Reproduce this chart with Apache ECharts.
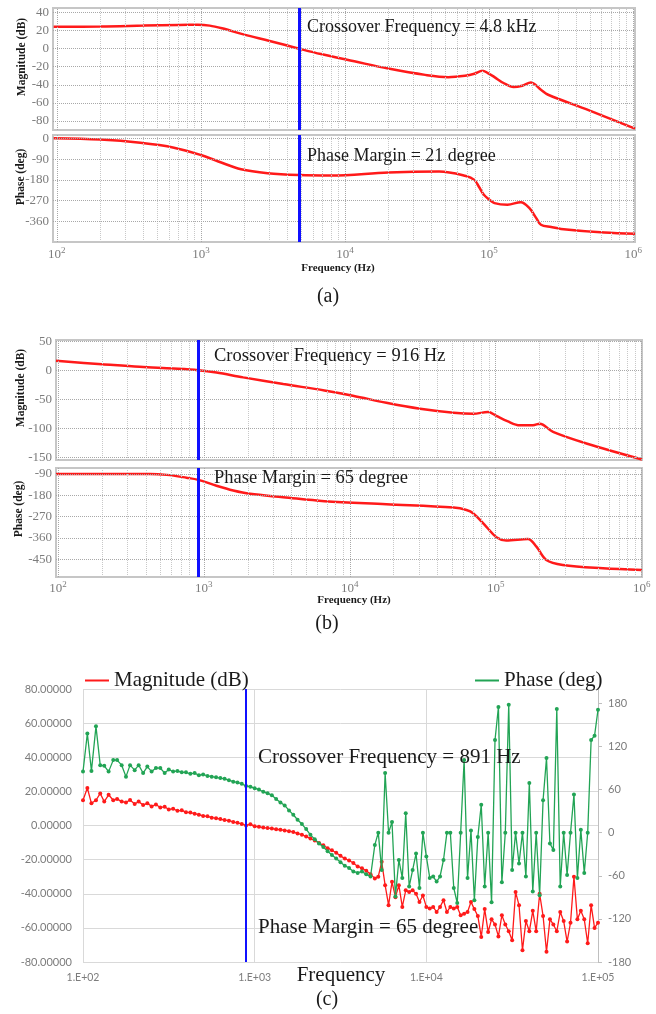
<!DOCTYPE html>
<html>
<head>
<meta charset="utf-8">
<script src="https://cdn.jsdelivr.net/npm/echarts@6/dist/echarts.min.js"></script>
<style>
  html, body { margin: 0; padding: 0; background: #fff; }
  #chart { width: 656px; height: 1014px; }
</style>
</head>
<body>
<div id="chart"></div>
<script>
// ---------- (a) loop gain, first design ----------
const aMagFreq = [95, 200, 400, 700, 950, 1150, 1400, 2000, 3000, 4800, 6800, 11600, 20000, 36000, 52000, 68000, 79000, 90000, 98000, 109000, 126000, 148000, 170000, 195000, 229000, 257000, 490000, 1030000];
const aMagDb   = [24.3, 24.5, 25.5, 26.3, 26.4, 25.5, 22.5, 15.5, 8.5, 0, -6, -14, -22, -29, -31.5, -30, -27.8, -24.4, -27, -31.5, -38, -42.5, -41, -37.5, -45.5, -51, -68, -88.5];
const aPhFreq  = [95, 200, 380, 650, 1000, 1320, 1900, 2900, 4800, 8000, 20000, 45000, 69000, 79000, 85000, 92000, 100000, 109000, 134000, 166000, 190000, 212000, 229000, 270000, 316000, 630000, 1030000];
const aPhDeg   = [1, -5, -19, -40, -72, -100, -134, -151, -159, -161, -148, -144, -163, -180, -210, -245, -265, -281, -288, -277, -302, -345, -375, -385, -393, -409, -414];
const aCrossoverHz = 4800;
const aMagTicks = [40, 20, 0, -20, -40, -60, -80];
const aPhTicks  = [0, -90, -180, -270, -360];

// ---------- (b) loop gain, second design ----------
const bMagFreq = [97, 200, 363, 617, 916, 1220, 1860, 3500, 6700, 10500, 17800, 30300, 51500, 70000, 88500, 101000, 120000, 146000, 180000, 200000, 247000, 418000, 1005000];
const bMagDb   = [16, 10.3, 5.7, 2.8, 0, -4, -12.5, -24, -35, -44, -56.4, -66.7, -73.5, -75.2, -72.3, -79, -88, -95, -95, -92.3, -106.5, -126.5, -154];
const bPhFreq  = [97, 427, 556, 760, 916, 1220, 1590, 2070, 3490, 6700, 17800, 51500, 63000, 70000, 86000, 101000, 118000, 166000, 190000, 222000, 288000, 543000, 1005000];
const bPhDeg   = [-90, -90, -94, -106, -115, -140, -160, -174, -188, -205, -218, -232, -242, -256, -312, -357, -371, -365, -397, -453, -474, -488, -495];
const bCrossoverHz = 916;
const bMagTicks = [50, 0, -50, -100, -150];
const bPhTicks  = [-90, -180, -270, -360, -450];

// ---------- (c) measured sweep (40 pts/decade up to 5 kHz, 50 pts/decade above) ----------
const cFreq = [
  100, 106, 112, 119, 126, 133, 141, 150, 158, 168, 178, 188, 200, 211, 224, 237, 251, 266, 282, 299,
  316, 335, 355, 376, 398, 422, 447, 473, 501, 531, 562, 596, 631, 668, 708, 750, 794, 841, 891, 944,
  1000, 1059, 1122, 1189, 1259, 1334, 1413, 1496, 1585, 1679, 1778, 1884, 1995, 2113, 2239, 2371, 2512, 2661, 2818, 2985,
  3162, 3350, 3548, 3758, 3981, 4217, 4467, 4732,
  5012, 5248, 5495, 5754, 6026, 6310, 6607, 6918, 7244, 7586, 7943, 8318, 8710, 9120, 9550,
  10000, 10470, 10960, 11480, 12020, 12590, 13180, 13800, 14450, 15140, 15850, 16600, 17380, 18200, 19050,
  19950, 20890, 21880, 22910, 23990, 25120, 26300, 27540, 28840, 30200, 31620, 33110, 34670, 36310, 38020,
  39810, 41690, 43650, 45710, 47860, 50120, 52480, 54950, 57540, 60260, 63100, 66070, 69180, 72440, 75860,
  79430, 83180, 87100, 91200, 95500, 100000
];
const cMagDb = [
  14.8, 22, 13, 14.8, 18.8, 14, 18, 14.8, 15.6, 14,
  13.5, 15, 12.6, 14, 12, 13, 11.2, 12.3, 10.5, 11,
  9.4, 9.8, 8.6, 8.9, 7.8, 7.6, 6.9, 6.3, 5.6, 5.4,
  4.6, 4.3, 3.8, 3.2, 2.8, 2.1, 1.6, 0.9, 0, 0.8,
  -0.5, -0.8, -1.2, -1.5, -1.8, -2.2, -2.5, -2.9, -3.3, -3.8,
  -4.7, -5.4, -6.5, -7.6, -8.8, -10.3, -11.6, -13.3, -14.5, -16,
  -17.8, -19.4, -20.5, -22, -24, -25, -26.5, -28.5,
  -31, -30, -21.3, -35, -46.7, -33, -42, -35, -47.7, -38,
  -39, -38, -40, -44.8, -41, -47.7, -48.6, -47.7, -50.7, -47.7,
  -43.8, -50.7, -47.7, -48.6, -47.7, -52.6, -51.7, -50.7, -44.8, -49,
  -53, -65.3, -49, -62.4, -55, -58, -65, -52.6, -58, -62,
  -67.3, -39, -46.7, -73.1, -56, -62, -50, -62, -40, -53,
  -74, -55, -58, -62, -50.7, -56, -68, -57, -30, -55,
  -50, -55, -69, -46.7, -60, -57
];
const cPhaseDeg = [
  85, 138, 86, 148, 94, 93, 85, 101, 101, 94,
  78, 94, 87, 94, 83, 92, 85, 90, 90, 83,
  88, 85, 86, 84, 84, 82, 83, 80, 81, 79,
  78, 77, 76, 75, 73, 71, 70, 68, 65, 64,
  62, 60, 57, 55, 52, 47, 42, 38, 31, 25,
  18, 12, 5, -3, -9, -15, -20, -26, -31, -36,
  -41, -46, -49, -54, -56, -54, -58, -61,
  -17, 0, -52, 83, 0, 15, -89, -38, -63, 27,
  -75, -52, -29, -77, 0, -33, -63, -61, -68, -61,
  -38, 0, 0, -77, -98, 0, 101, -63, 3, -94,
  -6, 39, -75, 0, -97, 129, 175, -69, 0, 178,
  -52, 0, -43, 0, -61, 69, -82, 0, -87, 45,
  104, -15, -24, 172, -75, 0, -59, 0, 53, -63,
  4, -56, 0, 129, 135, 171
];
const cCrossoverHz = 891;

// ---------- styling ----------
const SERIF = '"Liberation Serif", "Times New Roman", serif';
const SANS = 'Lato, "Open Sans", sans-serif';
const RED = '#ff1a1a';
const BLUE = '#1010ff';
const GREEN = '#22a455';
const TICK_GRAY = '#7c7c7c';

const zip = (xs, ys) => xs.map((x, i) => [x, ys[i]]);

// dotted log grid: every 1..9 x 10^n inside the axis range
function logGridValues(lo, hi) {
  const out = [];
  for (let e = 2; e <= 6; e++) {
    for (let m = 1; m <= 9; m++) {
      const v = m * Math.pow(10, e);
      if (v >= lo && v <= hi) out.push({ v, major: m === 1 });
    }
  }
  return out;
}

function gridSeries(idx, xr, yTicks) {
  const vert = logGridValues(xr[0], xr[1]).map(g => ({
    xAxis: g.v,
    lineStyle: { color: g.major ? '#a8a8a8' : '#c8c8c8', type: 'dotted', width: 1 }
  }));
  const horiz = yTicks.map(v => ({ yAxis: v, lineStyle: { color: '#a8a8a8', type: 'dotted', width: 1 } }));
  return {
    type: 'scatter', xAxisIndex: idx, yAxisIndex: idx, data: [], silent: true, z: 1,
    markLine: { silent: true, symbol: 'none', animation: false, label: { show: false }, data: vert.concat(horiz) }
  };
}

function crossoverSeries(idx, hz, width) {
  return {
    type: 'scatter', xAxisIndex: idx, yAxisIndex: idx, data: [], silent: true, z: 6,
    markLine: {
      silent: true, symbol: 'none', animation: false, label: { show: false },
      lineStyle: { color: BLUE, width: width, type: 'solid' },
      data: [{ xAxis: hz }]
    }
  };
}

function bodeLine(idx, xs, ys) {
  return {
    type: 'line', xAxisIndex: idx, yAxisIndex: idx, data: zip(xs, ys),
    showSymbol: false, smooth: 0.35, z: 3,
    lineStyle: { color: RED, width: 2.5 }, itemStyle: { color: RED }
  };
}

function powerLabel(v) {
  const e = Math.log10(v);
  if (Math.abs(e - Math.round(e)) > 1e-6) return '';
  return '{b|10}{s|' + Math.round(e) + '}';
}

const powRich = {
  b: { fontFamily: SERIF, fontSize: 13, color: TICK_GRAY, lineHeight: 18, verticalAlign: 'middle' },
  s: { fontFamily: SERIF, fontSize: 9, color: TICK_GRAY, lineHeight: 10, verticalAlign: 'top' }
};

function bodeX(gridIndex, range, showLabels, margin) {
  return {
    type: 'log', logBase: 10, gridIndex, min: range[0], max: range[1],
    axisLine: { show: false }, axisTick: { show: false }, splitLine: { show: false },
    axisLabel: showLabels
      ? { show: true, formatter: powerLabel, rich: powRich, margin: margin }
      : { show: false }
  };
}

function bodeY(gridIndex, min, max, interval, ticks) {
  return {
    type: 'value', gridIndex, min, max, interval,
    axisLine: { show: false }, axisTick: { show: false }, splitLine: { show: false },
    axisLabel: {
      fontFamily: SERIF, fontSize: 13, color: TICK_GRAY, margin: 4,
      formatter: v => (ticks.indexOf(Math.round(v)) >= 0 && Math.abs(v - Math.round(v)) < 1e-6) ? String(Math.round(v)) : ''
    }
  };
}

const aRange = [94, 1030000];
const bRange = [97, 1005000];
const frame = { show: true, borderColor: '#c6c6c6', borderWidth: 2, backgroundColor: 'transparent' };

function text(x, y, str, size, opts) {
  opts = opts || {};
  return {
    type: 'text', x: x, y: y, rotation: opts.rotate || 0, z: 100,
    style: {
      text: str,
      font: (opts.bold ? 'bold ' : '') + size + 'px ' + SERIF,
      fill: opts.color || '#1a1a1a',
      textAlign: opts.align || 'left', align: opts.align || 'left',
      textVerticalAlign: 'middle', verticalAlign: 'middle'
    }
  };
}

const option = {
  animation: false,
  backgroundColor: '#ffffff',
  grid: [
    Object.assign({ left: 53, top: 8, width: 582, height: 122 }, frame),
    Object.assign({ left: 53, top: 135, width: 582, height: 107 }, frame),
    Object.assign({ left: 56, top: 340, width: 586, height: 120 }, frame),
    Object.assign({ left: 56, top: 468, width: 586, height: 109 }, frame),
    { left: 83, top: 689, width: 515, height: 273, show: false }
  ],
  xAxis: [
    bodeX(0, aRange, false),
    bodeX(1, aRange, true, 4),
    bodeX(2, bRange, false),
    bodeX(3, bRange, true, 3),
    {
      type: 'log', logBase: 10, gridIndex: 4, min: 100, max: 100000,
      axisLine: { show: false }, axisTick: { show: false },
      splitLine: { show: true, lineStyle: { color: '#d9d9d9', width: 1 } },
      axisLabel: {
        fontFamily: SANS, fontSize: 10.5, color: TICK_GRAY, margin: 10,
        formatter: v => {
          const e = Math.log10(v);
          if (Math.abs(e - Math.round(e)) > 1e-6) return '';
          return '1.E+' + String(Math.round(e)).padStart(2, '0');
        }
      }
    }
  ],
  yAxis: [
    bodeY(0, -90, 45, 10, aMagTicks),
    bodeY(1, -450, 15, 90, aPhTicks),
    bodeY(2, -155, 52, 5, bMagTicks),
    bodeY(3, -525, -65, 15, bPhTicks),
    {
      type: 'value', gridIndex: 4, min: -80, max: 80, interval: 20, position: 'left',
      axisLine: { show: false }, axisTick: { show: false },
      splitLine: { show: true, lineStyle: { color: '#d9d9d9', width: 1 } },
      axisLabel: { fontFamily: SANS, fontSize: 11, color: TICK_GRAY, margin: 11, formatter: v => v.toFixed(5) }
    },
    {
      type: 'value', gridIndex: 4, min: -180, max: 200, interval: 60, position: 'right',
      axisLine: { show: true, lineStyle: { color: '#bfbfbf', width: 1 } },
      axisTick: { show: true, inside: false, length: 4, lineStyle: { color: '#bfbfbf' } },
      splitLine: { show: false },
      axisLabel: { fontFamily: SANS, fontSize: 11, color: TICK_GRAY, margin: 10, showMaxLabel: false,
        formatter: v => (v > 180 ? '' : String(v)) }
    }
  ],
  legend: [
    {
      data: ['Magnitude (dB)'], left: 80, top: 665, icon: 'rect', itemWidth: 24, itemHeight: 2,
      selectedMode: false, textStyle: { fontFamily: SERIF, fontSize: 21, color: '#1a1a1a' }
    },
    {
      data: ['Phase (deg)'], left: 470, top: 665, icon: 'rect', itemWidth: 24, itemHeight: 2,
      selectedMode: false, textStyle: { fontFamily: SERIF, fontSize: 21, color: '#1a1a1a' }
    }
  ],
  series: [
    gridSeries(0, aRange, aMagTicks),
    gridSeries(1, aRange, aPhTicks),
    gridSeries(2, bRange, bMagTicks),
    gridSeries(3, bRange, bPhTicks),
    bodeLine(0, aMagFreq, aMagDb),
    bodeLine(1, aPhFreq, aPhDeg),
    bodeLine(2, bMagFreq, bMagDb),
    bodeLine(3, bPhFreq, bPhDeg),
    crossoverSeries(0, aCrossoverHz, 3),
    crossoverSeries(1, aCrossoverHz, 3),
    crossoverSeries(2, bCrossoverHz, 3),
    crossoverSeries(3, bCrossoverHz, 3),
    {
      name: 'Magnitude (dB)', type: 'line', xAxisIndex: 4, yAxisIndex: 4, data: zip(cFreq, cMagDb),
      symbol: 'circle', symbolSize: 4, showSymbol: true, z: 3,
      lineStyle: { color: RED, width: 1.3 }, itemStyle: { color: RED }
    },
    {
      name: 'Phase (deg)', type: 'line', xAxisIndex: 4, yAxisIndex: 5, data: zip(cFreq, cPhaseDeg),
      symbol: 'circle', symbolSize: 4, showSymbol: true, z: 4,
      lineStyle: { color: GREEN, width: 1.3 }, itemStyle: { color: GREEN }
    },
    Object.assign(crossoverSeries(4, cCrossoverHz, 2), { yAxisIndex: 4 })
  ],
  graphic: [
    // (a)
    text(307, 27, 'Crossover Frequency = 4.8 kHz', 18),
    text(307, 156, 'Phase Margin = 21 degree', 18),
    text(338, 268, 'Frequency (Hz)', 11, { bold: true, align: 'center' }),
    text(328, 297, '(a)', 20, { align: 'center' }),
    text(22, 57, 'Magnitude (dB)', 11.5, { bold: true, align: 'center', rotate: Math.PI / 2 }),
    text(21, 177, 'Phase (deg)', 11.5, { bold: true, align: 'center', rotate: Math.PI / 2 }),
    // (b)
    text(214, 356, 'Crossover Frequency = 916 Hz', 18.5),
    text(214, 478, 'Phase Margin = 65 degree', 18.5),
    text(354, 600, 'Frequency (Hz)', 11, { bold: true, align: 'center' }),
    text(327, 624, '(b)', 20, { align: 'center' }),
    text(21, 388, 'Magnitude (dB)', 11.5, { bold: true, align: 'center', rotate: Math.PI / 2 }),
    text(19, 509, 'Phase (deg)', 11.5, { bold: true, align: 'center', rotate: Math.PI / 2 }),
    // (c)
    text(258, 757, 'Crossover Frequency = 891 Hz', 21),
    text(258, 927, 'Phase Margin = 65 degree', 21),
    text(341, 975, 'Frequency', 21, { align: 'center' }),
    text(327, 1000, '(c)', 20, { align: 'center' })
  ]
};

const chart = echarts.init(document.getElementById('chart'), null, { renderer: 'canvas' });
chart.setOption(option);
</script>
</body>
</html>
